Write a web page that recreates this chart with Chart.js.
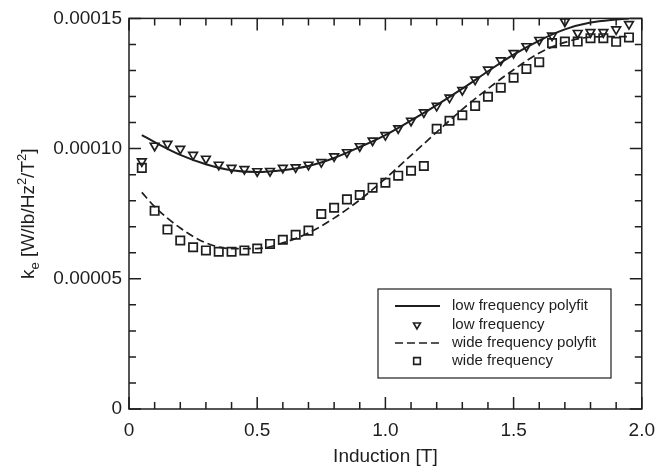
<!DOCTYPE html>
<html>
<head>
<meta charset="utf-8">
<script src="https://cdn.jsdelivr.net/npm/chart.js@4.4.0/dist/chart.umd.min.js"></script>
<style>
    body { margin: 0; background: #fff; }
    #wrap { width: 665px; height: 476px; }
</style>
</head>
<body>
<div id="wrap"><canvas id="myChart"></canvas></div>
<script>
// Induction [T] sample points (same for both measurement sets)
const inductionX = [0.05, 0.10, 0.15, 0.20, 0.25, 0.30, 0.35, 0.40, 0.45, 0.50,
    0.55, 0.60, 0.65, 0.70, 0.75, 0.80, 0.85, 0.90, 0.95, 1.00,
    1.05, 1.10, 1.15, 1.20, 1.25, 1.30, 1.35, 1.40, 1.45, 1.50,
    1.55, 1.60, 1.65, 1.70, 1.75, 1.80, 1.85, 1.90, 1.95];

// measured k_e values (x 1e-4)
const lowFreq = [0.951, 1.011, 1.018, 0.999, 0.976, 0.961, 0.938, 0.926, 0.921, 0.913,
    0.914, 0.926, 0.928, 0.938, 0.948, 0.970, 0.986, 1.009, 1.031, 1.052,
    1.078, 1.107, 1.139, 1.164, 1.196, 1.225, 1.265, 1.303, 1.339, 1.367,
    1.393, 1.417, 1.434, 1.488, 1.444, 1.447, 1.447, 1.458, 1.478];
const wideFreq = [0.926, 0.761, 0.689, 0.647, 0.621, 0.609, 0.604, 0.604, 0.609, 0.616,
    0.634, 0.650, 0.669, 0.685, 0.749, 0.773, 0.805, 0.822, 0.850, 0.869,
    0.896, 0.915, 0.933, 1.076, 1.107, 1.128, 1.164, 1.199, 1.234, 1.272,
    1.306, 1.332, 1.405, 1.411, 1.411, 1.424, 1.424, 1.410, 1.427];

// polyfit curves (x 1e-4)
const fitX = [0.05, 0.1, 0.2, 0.3, 0.4, 0.5, 0.6, 0.7, 0.8, 0.9, 1.0,
    1.1, 1.2, 1.3, 1.4, 1.5, 1.6, 1.7, 1.8, 1.9, 1.95];
const lowFit = [1.052, 1.025, 0.976, 0.940, 0.917, 0.910, 0.917, 0.933, 0.964, 1.006, 1.052,
    1.108, 1.167, 1.230, 1.297, 1.361, 1.415, 1.458, 1.484, 1.496, 1.500];
const wideFit = [0.832, 0.777, 0.695, 0.638, 0.616, 0.616, 0.638, 0.676, 0.733, 0.803, 0.885,
    0.974, 1.063, 1.151, 1.230, 1.303, 1.367, 1.408, 1.428, 1.430, 1.430];

const xTickLabels = ['0', '0.5', '1.0', '1.5', '2.0'];
const yTickLabels = ['0', '0.00005', '0.00010', '0.00015'];

const INK = '#1e1e1e';
const FONT = "'Liberation Sans', Arial, sans-serif";

function pts(xs, ys) {
    return xs.map((x, i) => ({ x: x, y: ys[i] * 1e-4 }));
}

// inward ticks on all four sides + frame
const frameTicks = {
    id: 'frameTicks',
    afterDatasetsDraw(chart) {
        const { ctx, chartArea: a, scales } = chart;
        ctx.save();
        ctx.strokeStyle = INK;
        ctx.lineWidth = 1.5;
        ctx.strokeRect(a.left, a.top, a.right - a.left, a.bottom - a.top);
        ctx.beginPath();
        for (let i = 0; i <= 20; i++) {
            const px = scales.x.getPixelForValue(i / 10);
            const len = i % 5 === 0 ? 12 : 7;
            ctx.moveTo(px, a.bottom); ctx.lineTo(px, a.bottom - len);
            ctx.moveTo(px, a.top); ctx.lineTo(px, a.top + len);
        }
        for (let j = 0; j <= 15; j++) {
            const py = scales.y.getPixelForValue(j * 1e-5);
            const len = j % 5 === 0 ? 12 : 7;
            ctx.moveTo(a.left, py); ctx.lineTo(a.left + len, py);
            ctx.moveTo(a.right, py); ctx.lineTo(a.right - len, py);
        }
        ctx.stroke();
        ctx.restore();
    }
};

// y axis title with sub/superscripts
const yTitle = {
    id: 'yTitle',
    afterDraw(chart) {
        const ctx = chart.ctx;
        const a = chart.chartArea;
        const parts = [
            { t: 'k', s: 19, dy: 0 },
            { t: 'e', s: 13, dy: 5 },
            { t: ' [W/lb/Hz', s: 19, dy: 0 },
            { t: '2', s: 13, dy: -8 },
            { t: '/T', s: 19, dy: 0 },
            { t: '2', s: 13, dy: -8 },
            { t: ']', s: 19, dy: 0 }
        ];
        ctx.save();
        ctx.fillStyle = INK;
        ctx.textBaseline = 'alphabetic';
        let total = 0;
        parts.forEach(p => {
            ctx.font = p.s + 'px ' + FONT;
            p.w = ctx.measureText(p.t).width;
            total += p.w;
        });
        ctx.translate(34, (a.top + a.bottom) / 2);
        ctx.rotate(-Math.PI / 2);
        let x = -total / 2;
        parts.forEach(p => {
            ctx.font = p.s + 'px ' + FONT;
            ctx.fillText(p.t, x, p.dy);
            x += p.w;
        });
        ctx.restore();
    }
};

// boxed legend inside the plot
const boxLegend = {
    id: 'boxLegend',
    afterDraw(chart) {
        const ctx = chart.ctx;
        const sets = chart.data.datasets;
        const bx = 378, by = 289, bw = 233, bh = 89;
        const rows = [306, 325, 343, 361];
        ctx.save();
        ctx.fillStyle = '#fff';
        ctx.fillRect(bx, by, bw, bh);
        ctx.strokeStyle = INK;
        ctx.lineWidth = 1.2;
        ctx.strokeRect(bx, by, bw, bh);
        sets.forEach((ds, i) => {
            const y = rows[i];
            ctx.strokeStyle = INK;
            if (ds.showLine) {
                ctx.lineWidth = ds.borderWidth;
                ctx.setLineDash(ds.borderDash || []);
                ctx.beginPath();
                ctx.moveTo(395, y); ctx.lineTo(440, y);
                ctx.stroke();
                ctx.setLineDash([]);
            } else {
                ctx.fillStyle = 'rgba(0,0,0,0)';
                ctx.lineWidth = 1.6;
                Chart.helpers.drawPoint(ctx, {
                    pointStyle: ds.pointStyle,
                    rotation: ds.pointRotation || 0,
                    radius: ds.pointRadius * 0.8,
                    borderWidth: 1.6
                }, 417, y);
            }
            ctx.fillStyle = INK;
            ctx.font = '15px ' + FONT;
            ctx.textBaseline = 'middle';
            ctx.fillText(ds.label, 452, y);
        });
        ctx.restore();
    }
};

const ctx = document.getElementById('myChart').getContext('2d');
const chart = new Chart(ctx, {
    type: 'scatter',
    data: {
        datasets: [{
            label: 'low frequency polyfit',
            data: pts(fitX, lowFit),
            showLine: true,
            borderColor: INK,
            borderWidth: 2,
            pointRadius: 0,
            cubicInterpolationMode: 'monotone'
        }, {
            label: 'low frequency',
            data: pts(inductionX, lowFreq),
            showLine: false,
            pointStyle: 'triangle',
            pointRotation: 180,
            pointRadius: 5,
            pointBorderWidth: 1.7,
            borderColor: INK,
            backgroundColor: 'rgba(0,0,0,0)',
            clip: false
        }, {
            label: 'wide frequency polyfit',
            data: pts(fitX, wideFit),
            showLine: true,
            borderColor: INK,
            borderWidth: 1.7,
            borderDash: [8, 4],
            pointRadius: 0,
            cubicInterpolationMode: 'monotone'
        }, {
            label: 'wide frequency',
            data: pts(inductionX, wideFreq),
            showLine: false,
            pointStyle: 'rect',
            pointRadius: 5.9,
            pointBorderWidth: 1.7,
            borderColor: INK,
            backgroundColor: 'rgba(0,0,0,0)',
            clip: false
        }]
    },
    options: {
        responsive: true,
        maintainAspectRatio: false,
        animation: false,
        layout: { padding: { top: 15, right: 16, left: 0, bottom: 0 } },
        plugins: {
            legend: { display: false },
            tooltip: { enabled: false }
        },
        scales: {
            x: {
                type: 'linear',
                min: 0,
                max: 2,
                grid: { display: false, drawTicks: false },
                border: { display: false },
                ticks: {
                    stepSize: 0.5,
                    autoSkip: false,
                    maxRotation: 0,
                    padding: 10,
                    color: INK,
                    font: { family: FONT, size: 19 },
                    callback: (v, i) => xTickLabels[i]
                },
                title: {
                    display: true,
                    text: 'Induction [T]',
                    color: INK,
                    padding: { top: 0, bottom: 8 },
                    font: { family: FONT, size: 19 }
                },
                afterFit: (scale) => { scale.height = 67; }
            },
            y: {
                min: 0,
                max: 0.00015,
                grid: { display: false, drawTicks: false },
                border: { display: false },
                ticks: {
                    stepSize: 0.00005,
                    padding: 7,
                    color: INK,
                    font: { family: FONT, size: 19 },
                    callback: (v, i) => yTickLabels[i]
                },
                afterFit: (scale) => { scale.width = 129; }
            }
        }
    },
    plugins: [frameTicks, yTitle, boxLegend]
});
</script>
</body>
</html>
